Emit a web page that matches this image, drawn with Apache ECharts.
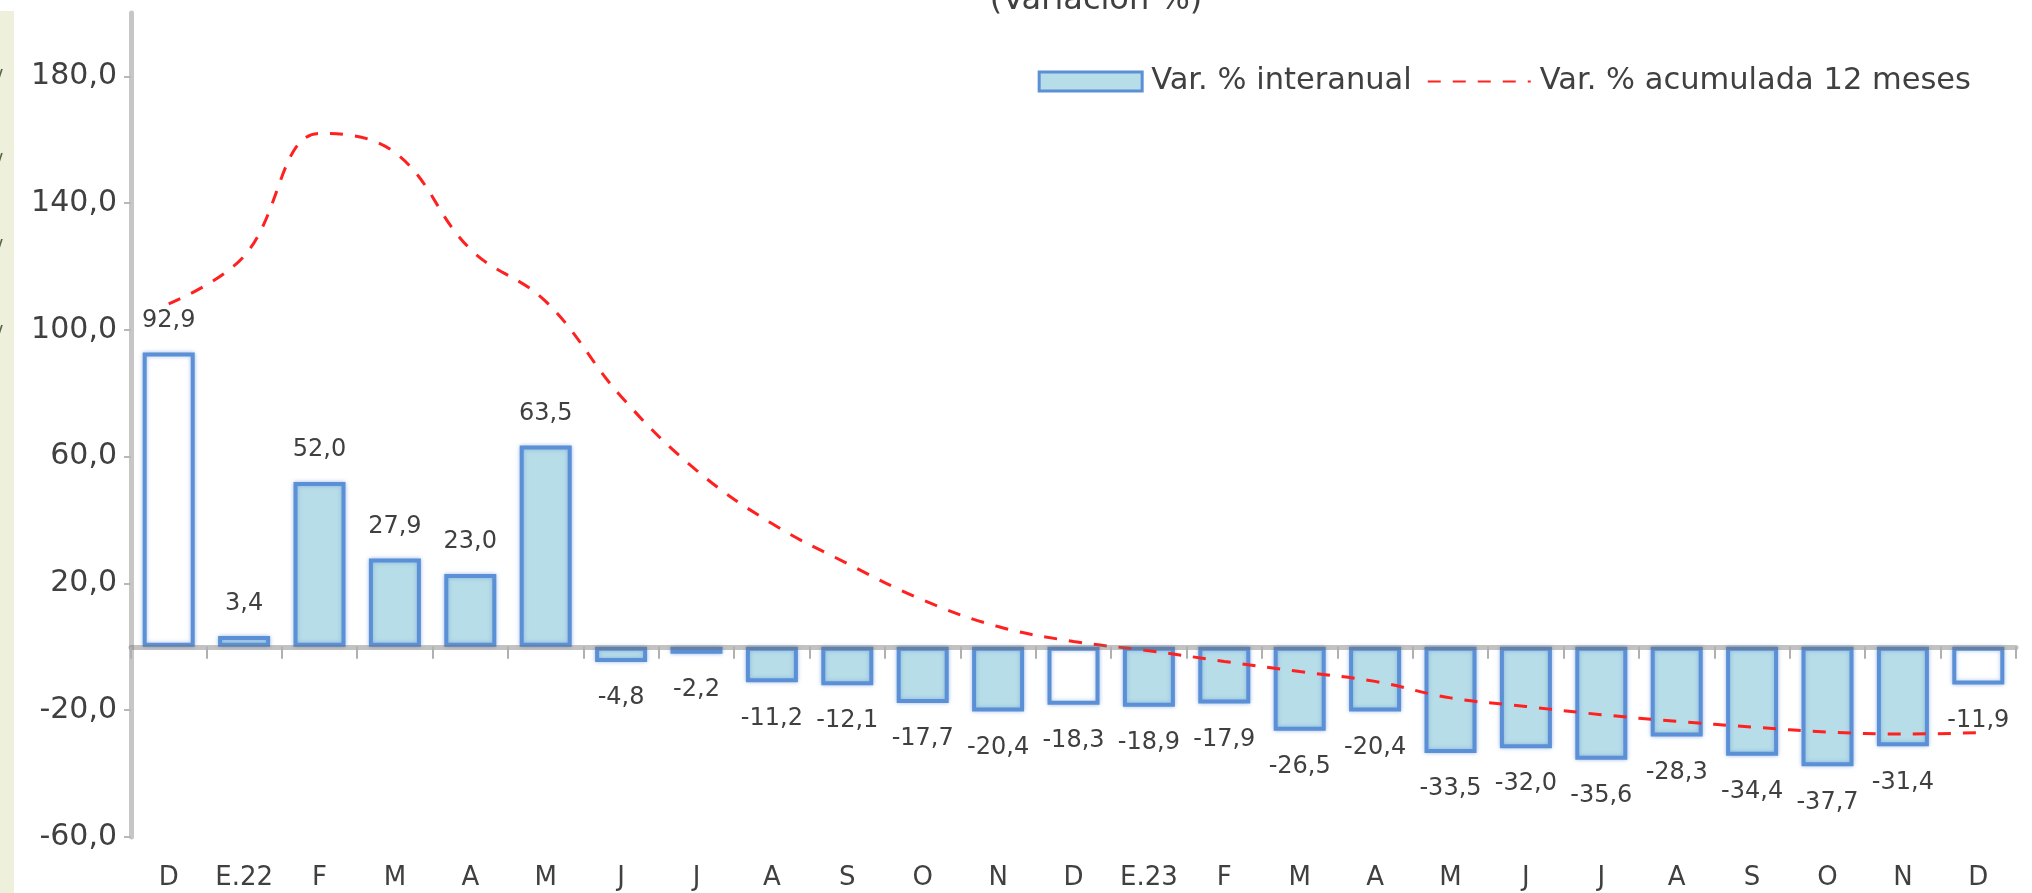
<!DOCTYPE html>
<html>
<head>
<meta charset="utf-8">
<script src="https://cdn.jsdelivr.net/npm/echarts@6/dist/echarts.min.js"></script>
<style>
html,body{margin:0;padding:0;background:#fff;}
#chart{width:2032px;height:893px;}
</style>
</head>
<body>
<div id="chart"></div>
<script>
const categories = ['D','E.22','F','M','A','M','J','J','A','S','O','N','D','E.23','F','M','A','M','J','J','A','S','O','N','D'];
const interanual = [92.9, 3.4, 52.0, 27.9, 23.0, 63.5, -4.8, -2.2, -11.2, -12.1, -17.7, -20.4, -18.3, -18.9, -17.9, -26.5, -20.4, -33.5, -32.0, -35.6, -28.3, -34.4, -37.7, -31.4, -11.9];
const acumulada12 = [108.2, 123.3, 162.0, 156.0, 125.5, 109.0, 79.0, 55.7, 38.9, 26.3, 14.8, 6.4, 1.7, -1.2, -4.6, -7.8, -10.9, -16.1, -18.8, -21.4, -23.5, -25.3, -26.9, -27.5, -27.1];
const seriesNames = ['Var. % interanual', 'Var. % acumulada 12 meses'];
const titleText = '(Variación %)';

const FONT = 'DejaVu Sans';
const TXT = '#404040';
const fmt = v => v.toFixed(1).replace('.', ',');
const BAR_FILL = '#b7dde8';
const BAR_BORDER = '#5b8fd6';

const chart = echarts.init(document.getElementById('chart'));
chart.setOption({
  animation: false,
  backgroundColor: '#fff',
  textStyle: { fontFamily: FONT },
  grid: { left: 131, right: 16, top: 13, bottom: 56 },
  legend: {
    right: 56, top: 61,
    itemWidth: 103, itemHeight: 19, itemGap: 15,
    textStyle: { fontFamily: FONT, fontSize: 30.5, color: TXT, padding: [0, 0, 0, 4] },
    data: [
      { name: seriesNames[0], icon: 'rect', itemStyle: { color: BAR_FILL, borderColor: BAR_BORDER, borderWidth: 3 } },
      { name: seriesNames[1], itemStyle: { opacity: 0 } }
    ]
  },
  graphic: [
    { type: 'rect', left: 0, top: 11, shape: { width: 14, height: 882 }, style: { fill: '#eef0dc' }, silent: true },
    { type: 'text', x: 1096, y: -15, style: { text: titleText, font: '32px "DejaVu Sans"', fill: TXT, textAlign: 'center', textVerticalAlign: 'top' } },
    { type: 'text', left: -4, top: 68, style: { text: '/', font: '20px "DejaVu Sans"', fill: '#55663d' } },
    { type: 'text', left: -4, top: 152, style: { text: '/', font: '20px "DejaVu Sans"', fill: '#55663d' } },
    { type: 'text', left: -4, top: 238, style: { text: '/', font: '20px "DejaVu Sans"', fill: '#55663d' } },
    { type: 'text', left: -4, top: 324, style: { text: '/', font: '20px "DejaVu Sans"', fill: '#55663d' } }
  ],
  xAxis: [
    {
      type: 'category', data: categories, position: 'bottom', z: 5,
      axisLine: { onZero: true, lineStyle: { color: 'rgba(110,110,110,0.42)', width: 5 } },
      axisTick: { show: true, length: 12, lineStyle: { color: '#b0b0b0', width: 2 } },
      axisLabel: { show: false },
      splitLine: { show: false }
    },
    {
      type: 'category', data: categories, position: 'bottom',
      axisLine: { show: false, onZero: false },
      axisTick: { show: false },
      axisLabel: { show: true, fontFamily: FONT, fontSize: 26, color: TXT, margin: 28 },
      splitLine: { show: false }
    }
  ],
  yAxis: {
    type: 'value', min: -60, max: 200, interval: 40,
    axisLine: { show: true, lineStyle: { color: '#c6c6c6', width: 5 } },
    axisTick: { show: true, length: 7, lineStyle: { color: '#b8b8b8', width: 2 } },
    axisLabel: { fontFamily: FONT, fontSize: 30, color: TXT, margin: 14, showMaxLabel: false, formatter: v => fmt(v) },
    splitLine: { show: false }
  },
  series: [
    {
      name: seriesNames[0], type: 'bar', xAxisIndex: 0, barWidth: 52,
      itemStyle: {
        color: p => categories[p.dataIndex] === 'D' ? '#ffffff' : BAR_FILL,
        borderColor: BAR_BORDER, borderWidth: 4,
        shadowBlur: 4, shadowColor: 'rgba(80,130,210,0.45)'
      },
      label: {
        show: true, fontFamily: FONT, fontSize: 24, color: TXT,
        formatter: p => fmt(p.value)
      },
      data: interanual.map(v => ({
        value: v,
        label: v < 0 ? { position: 'bottom', distance: 24 } : { position: 'top', distance: 20 }
      }))
    },
    {
      name: seriesNames[1], type: 'line', xAxisIndex: 0, smooth: 0.4,
      symbol: 'none', z: 4,
      lineStyle: { color: '#ff2020', width: 3, type: [13, 12] },
      itemStyle: { color: '#ff2020' },
      data: acumulada12
    }
  ]
});
</script>
</body>
</html>
